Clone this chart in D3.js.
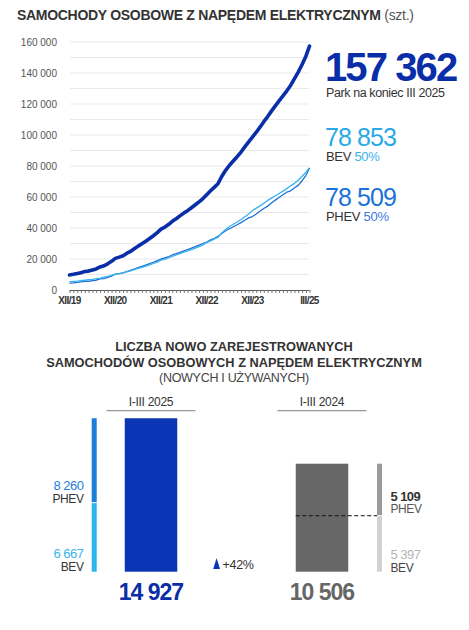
<!DOCTYPE html>
<html lang="pl">
<head>
<meta charset="UTF-8" />
<title>Samochody osobowe z napędem elektrycznym</title>
<script src="https://cdn.jsdelivr.net/npm/d3@7"></script>
<style>
  body { margin: 0; background: #fff; }
  svg { display: block; font-family: "Liberation Sans", Arial, sans-serif; }
</style>
</head>
<body>
<div id="chart"></div>
<script>
// park samochodow elektrycznych, miesiecznie XII/2019 - III/2025 (tys. szt.)
var parkTotal = [9.7, 10.1, 10.6, 11.2, 11.9, 12.2, 12.9, 13.6, 14.9, 15.6, 16.9, 18.5,
  20.4, 21.2, 22.1, 23.6, 24.9, 26.6, 28.3, 29.8, 31.5, 33.2, 35.0, 37.0,
  39.3, 40.6, 42.4, 44.3, 46.0, 47.8, 49.6, 51.2, 53.1, 55.0, 56.9, 59.0,
  61.5, 64.0, 66.4, 68.6, 73.4, 77.2, 80.5, 83.2, 86.0, 89.0, 92.3, 95.5,
  98.6, 101.8, 105.2, 108.6, 111.9, 115.4, 118.8, 122.0, 125.2, 128.5, 132.0, 136.4,
  140.6, 145.5, 151.0, 157.362];
var parkBEV = [5.3, 5.5, 5.7, 6.0, 6.3, 6.6, 6.9, 7.3, 7.7, 8.3, 8.8, 9.5,
  10.2, 10.6, 11.0, 11.7, 12.3, 13.1, 13.9, 14.6, 15.4, 16.2, 17.1, 18.0,
  19.3, 19.9, 20.8, 21.7, 22.6, 23.5, 24.4, 25.2, 26.1, 27.0, 28.0, 29.0,
  30.6, 31.7, 33.0, 33.9, 37.0, 39.0, 41.0, 42.4, 43.9, 45.5, 47.3, 49.0,
  51.2, 52.8, 54.3, 56.0, 57.8, 59.3, 60.8, 62.3, 63.8, 65.4, 67.2, 68.8,
  70.8, 73.4, 76.0, 78.853];
var parkPHEV = [4.4, 4.6, 4.9, 5.2, 5.6, 5.6, 6.0, 6.3, 7.2, 7.3, 8.1, 9.0,
  10.2, 10.6, 11.1, 11.9, 12.6, 13.5, 14.4, 15.2, 16.1, 17.0, 17.9, 19.0,
  20.0, 20.7, 21.6, 22.6, 23.4, 24.3, 25.2, 26.0, 27.0, 28.0, 28.9, 30.0,
  30.9, 32.3, 33.4, 34.7, 36.4, 38.2, 39.5, 40.8, 42.1, 43.5, 45.0, 46.5,
  47.4, 49.0, 50.9, 52.6, 54.1, 56.1, 58.0, 59.7, 61.4, 63.1, 64.0, 66.0,
  67.5, 70.5, 74.0, 78.509];
var xTickLabels = ["XII/19", "XII/20", "XII/21", "XII/22", "XII/23", "III/25"];
var xTickMonths = [0, 12, 24, 36, 48, 63];
var yTickValues = [0, 20000, 40000, 60000, 80000, 100000, 120000, 140000, 160000];

// rejestracje I-III
var regPeriods = ["I-III 2025", "I-III 2024"];
var regTotals = [14927, 10506];
var regPHEV = [8260, 5109];
var regBEV = [6667, 5397];
var regChange = "+42%";

var width = 469;
var height = 630;

var fmt = function(v) { return d3.format(",")(v).replace(/,/g, " "); };

var svg = d3.select("#chart").append("svg")
  .attr("width", width)
  .attr("height", height);

svg.append("rect").attr("width", width).attr("height", height).attr("fill", "#fff");

// tytul
var title = svg.append("text")
  .attr("x", 17).attr("y", 20)
  .attr("font-size", 14)
  .attr("fill", "#333")
  .attr("letter-spacing", -0.3);
title.append("tspan").attr("font-weight", "bold").text("SAMOCHODY OSOBOWE Z NAPĘDEM ELEKTRYCZNYM");
title.append("tspan").attr("fill", "#555").text(" (szt.)");

// skale
var start = new Date(2019, 11, 1);
var monthDate = function(i) { return d3.timeMonth.offset(start, i); };

var xScale = d3.scaleTime()
  .domain([monthDate(0), monthDate(63)])
  .range([69.5, 309.5]);

var yScale = d3.scaleLinear()
  .domain([0, 160000])
  .range([290, 42]);

// siatka co 10 000
svg.append("g")
  .selectAll("line")
  .data(d3.range(10000, 160001, 10000))
  .enter().append("line")
  .attr("x1", 70).attr("x2", 309)
  .attr("y1", function(d) { return yScale(d); })
  .attr("y2", function(d) { return yScale(d); })
  .attr("stroke", "#e9e9e9")
  .attr("stroke-width", 1);

// os y
var yAxis = d3.axisLeft(yScale)
  .tickValues(yTickValues)
  .tickSize(0)
  .tickPadding(0)
  .tickFormat(fmt);
svg.append("g")
  .attr("transform", "translate(57,0)")
  .call(yAxis)
  .call(function(g) { g.select(".domain").remove(); })
  .selectAll("text")
  .attr("font-family", "Liberation Sans, Arial, sans-serif")
  .attr("font-size", 10)
  .attr("fill", "#555")
  .attr("dy", "0.35em");

// os x - znaczniki miesieczne
var xAxis = d3.axisBottom(xScale)
  .tickValues(d3.range(0, 64).map(monthDate))
  .tickSize(3)
  .tickFormat("");
svg.append("g")
  .attr("transform", "translate(0,290)")
  .call(xAxis)
  .call(function(g) {
    g.select(".domain").attr("stroke", "#555").attr("d", "M69.5,0.5H309.5");
    g.selectAll(".tick line").attr("stroke", "#777");
  });

svg.append("g")
  .selectAll("text")
  .data(xTickLabels)
  .enter().append("text")
  .attr("x", function(d, i) { return xScale(monthDate(xTickMonths[i])); })
  .attr("y", 304)
  .attr("text-anchor", "middle")
  .attr("font-size", 10)
  .attr("font-weight", "bold")
  .attr("letter-spacing", -0.6)
  .attr("fill", "#333")
  .text(function(d) { return d; });

// linie
var line = d3.line()
  .x(function(d, i) { return xScale(monthDate(i)); })
  .y(function(d) { return yScale(d * 1000); });

svg.append("path")
  .datum(parkPHEV)
  .attr("fill", "none")
  .attr("stroke", "#1f6fd6")
  .attr("stroke-width", 1.3)
  .attr("stroke-linejoin", "round")
  .attr("d", line);

svg.append("path")
  .datum(parkBEV)
  .attr("fill", "none")
  .attr("stroke", "#35b3ea")
  .attr("stroke-width", 1.3)
  .attr("stroke-linejoin", "round")
  .attr("d", line);

svg.append("path")
  .datum(parkTotal)
  .attr("fill", "none")
  .attr("stroke", "#0a2ea8")
  .attr("stroke-width", 3.6)
  .attr("stroke-linejoin", "round")
  .attr("stroke-linecap", "round")
  .attr("d", line);

// opisy po prawej
var last = parkTotal.length - 1;
svg.append("text")
  .attr("x", 325).attr("y", 81)
  .attr("font-size", 40).attr("font-weight", "bold")
  .attr("letter-spacing", -1.9)
  .attr("fill", "#0a2ea8")
  .text(fmt(Math.round(parkTotal[last] * 1000)));
svg.append("text")
  .attr("x", 326).attr("y", 97)
  .attr("font-size", 12.5).attr("letter-spacing", -0.4)
  .attr("fill", "#333")
  .text("Park na koniec III 2025");

svg.append("text")
  .attr("x", 325).attr("y", 146)
  .attr("font-size", 25).attr("letter-spacing", -0.9)
  .attr("fill", "#2aa9e4")
  .text(fmt(Math.round(parkBEV[last] * 1000)));
var bevLab = svg.append("text")
  .attr("x", 326).attr("y", 161)
  .attr("font-size", 13).attr("letter-spacing", -0.3)
  .attr("fill", "#333");
bevLab.append("tspan").text("BEV ");
bevLab.append("tspan").attr("fill", "#3ab3ea").text("50%");

svg.append("text")
  .attr("x", 325).attr("y", 206)
  .attr("font-size", 25).attr("letter-spacing", -0.9)
  .attr("fill", "#1a73d8")
  .text(fmt(Math.round(parkPHEV[last] * 1000)));
var phevLab = svg.append("text")
  .attr("x", 326).attr("y", 221)
  .attr("font-size", 13).attr("letter-spacing", -0.3)
  .attr("fill", "#333");
phevLab.append("tspan").text("PHEV ");
phevLab.append("tspan").attr("fill", "#3a78df").text("50%");

// ---- rejestracje ----
var title2 = ["LICZBA NOWO ZAREJESTROWANYCH", "SAMOCHODÓW OSOBOWYCH Z NAPĘDEM ELEKTRYCZNYM"];
svg.append("g").selectAll("text")
  .data(title2)
  .enter().append("text")
  .attr("x", 234)
  .attr("y", function(d, i) { return 351 + i * 15.8; })
  .attr("text-anchor", "middle")
  .attr("font-size", 12.8).attr("font-weight", "bold")
  .attr("letter-spacing", 0)
  .attr("fill", "#333")
  .text(function(d) { return d; });
svg.append("text")
  .attr("x", 234).attr("y", 381.5)
  .attr("text-anchor", "middle")
  .attr("font-size", 12.5).attr("letter-spacing", -0.3)
  .attr("fill", "#444")
  .text("(NOWYCH I UŻYWANYCH)");

var groupX = d3.scalePoint()
  .domain(regPeriods)
  .range([151, 322]);

var yReg = d3.scaleLinear()
  .domain([0, 15000])
  .range([571.7, 571.7 - 154.2]);

// naglowki okresow
regPeriods.forEach(function(p) {
  var cx = groupX(p);
  svg.append("text")
    .attr("x", cx).attr("y", 406)
    .attr("text-anchor", "middle")
    .attr("font-size", 12).attr("letter-spacing", -0.3)
    .attr("fill", "#333")
    .text(p);
  svg.append("line")
    .attr("x1", cx - 44.5).attr("x2", cx + 44.5)
    .attr("y1", 410.7).attr("y2", 410.7)
    .attr("stroke", "#999").attr("stroke-width", 1.2);
});

var barW = 52.5;
var barColors = ["#0a35b5", "#676767"];
var totColors = ["#0a2ea8", "#666"];

// duze slupki
svg.append("g").selectAll("rect")
  .data(regTotals)
  .enter().append("rect")
  .attr("x", function(d, i) { return groupX(regPeriods[i]) - barW / 2; })
  .attr("y", function(d) { return yReg(d); })
  .attr("width", barW)
  .attr("height", function(d) { return yReg(0) - yReg(d); })
  .attr("fill", function(d, i) { return barColors[i]; });

// cienkie slupki skumulowane (BEV na dole, PHEV na gorze)
var thinX = [91.7, 377];
var thinCol = [["#2ab5ec", "#1b7ed8"], ["#d2d2d2", "#9a9a9a"]];
regPeriods.forEach(function(p, i) {
  svg.append("rect")
    .attr("x", thinX[i]).attr("width", 5)
    .attr("y", yReg(regBEV[i]))
    .attr("height", yReg(0) - yReg(regBEV[i]))
    .attr("fill", thinCol[i][0]);
  svg.append("rect")
    .attr("x", thinX[i]).attr("width", 5)
    .attr("y", yReg(regTotals[i]))
    .attr("height", yReg(regBEV[i]) - yReg(regTotals[i]) - 1)
    .attr("fill", thinCol[i][1]);
});

// linia przerywana 2024
svg.append("line")
  .attr("x1", groupX(regPeriods[1]) - barW / 2)
  .attr("x2", thinX[1])
  .attr("y1", yReg(regBEV[1]) - 0.5)
  .attr("y2", yReg(regBEV[1]) - 0.5)
  .attr("stroke", "#111")
  .attr("stroke-width", 1)
  .attr("stroke-dasharray", "4,2.5");

// etykiety 2025 (lewe)
svg.append("text").attr("x", 83.5).attr("y", 490)
  .attr("text-anchor", "end").attr("font-size", 13).attr("letter-spacing", -0.5)
  .attr("fill", "#1f7ddb").text(fmt(regPHEV[0]));
svg.append("text").attr("x", 83.5).attr("y", 502.7)
  .attr("text-anchor", "end").attr("font-size", 12).attr("letter-spacing", -0.4)
  .attr("fill", "#333").text("PHEV");
svg.append("text").attr("x", 83.5).attr("y", 558.3)
  .attr("text-anchor", "end").attr("font-size", 13).attr("letter-spacing", -0.5)
  .attr("fill", "#3ab4ea").text(fmt(regBEV[0]));
svg.append("text").attr("x", 83.5).attr("y", 570.7)
  .attr("text-anchor", "end").attr("font-size", 12).attr("letter-spacing", -0.4)
  .attr("fill", "#333").text("BEV");

// etykiety 2024 (prawe)
svg.append("text").attr("x", 390.5).attr("y", 500.7)
  .attr("font-size", 13).attr("font-weight", "bold").attr("letter-spacing", -0.6)
  .attr("fill", "#333").text(fmt(regPHEV[1]));
svg.append("text").attr("x", 390.5).attr("y", 513.3)
  .attr("font-size", 12).attr("letter-spacing", -0.4)
  .attr("fill", "#555").text("PHEV");
svg.append("text").attr("x", 390.5).attr("y", 559.3)
  .attr("font-size", 13).attr("letter-spacing", -0.5)
  .attr("fill", "#b5b5b5").text(fmt(regBEV[1]));
svg.append("text").attr("x", 390.5).attr("y", 571.7)
  .attr("font-size", 12).attr("letter-spacing", -0.4)
  .attr("fill", "#444").text("BEV");

// zmiana r/r
svg.append("path")
  .attr("d", "M213.2,569 L216.6,558 L220,569 Z")
  .attr("fill", "#0a35b5");
svg.append("text").attr("x", 222.5).attr("y", 569)
  .attr("font-size", 12.5).attr("letter-spacing", -0.3)
  .attr("fill", "#333").text(regChange);

// sumy pod slupkami
svg.append("g").selectAll("text")
  .data(regTotals)
  .enter().append("text")
  .attr("x", function(d, i) { return groupX(regPeriods[i]); })
  .attr("y", 599.5)
  .attr("text-anchor", "middle")
  .attr("font-size", 23).attr("font-weight", "bold")
  .attr("letter-spacing", -1)
  .attr("fill", function(d, i) { return totColors[i]; })
  .text(function(d) { return fmt(d); });
</script>
</body>
</html>
